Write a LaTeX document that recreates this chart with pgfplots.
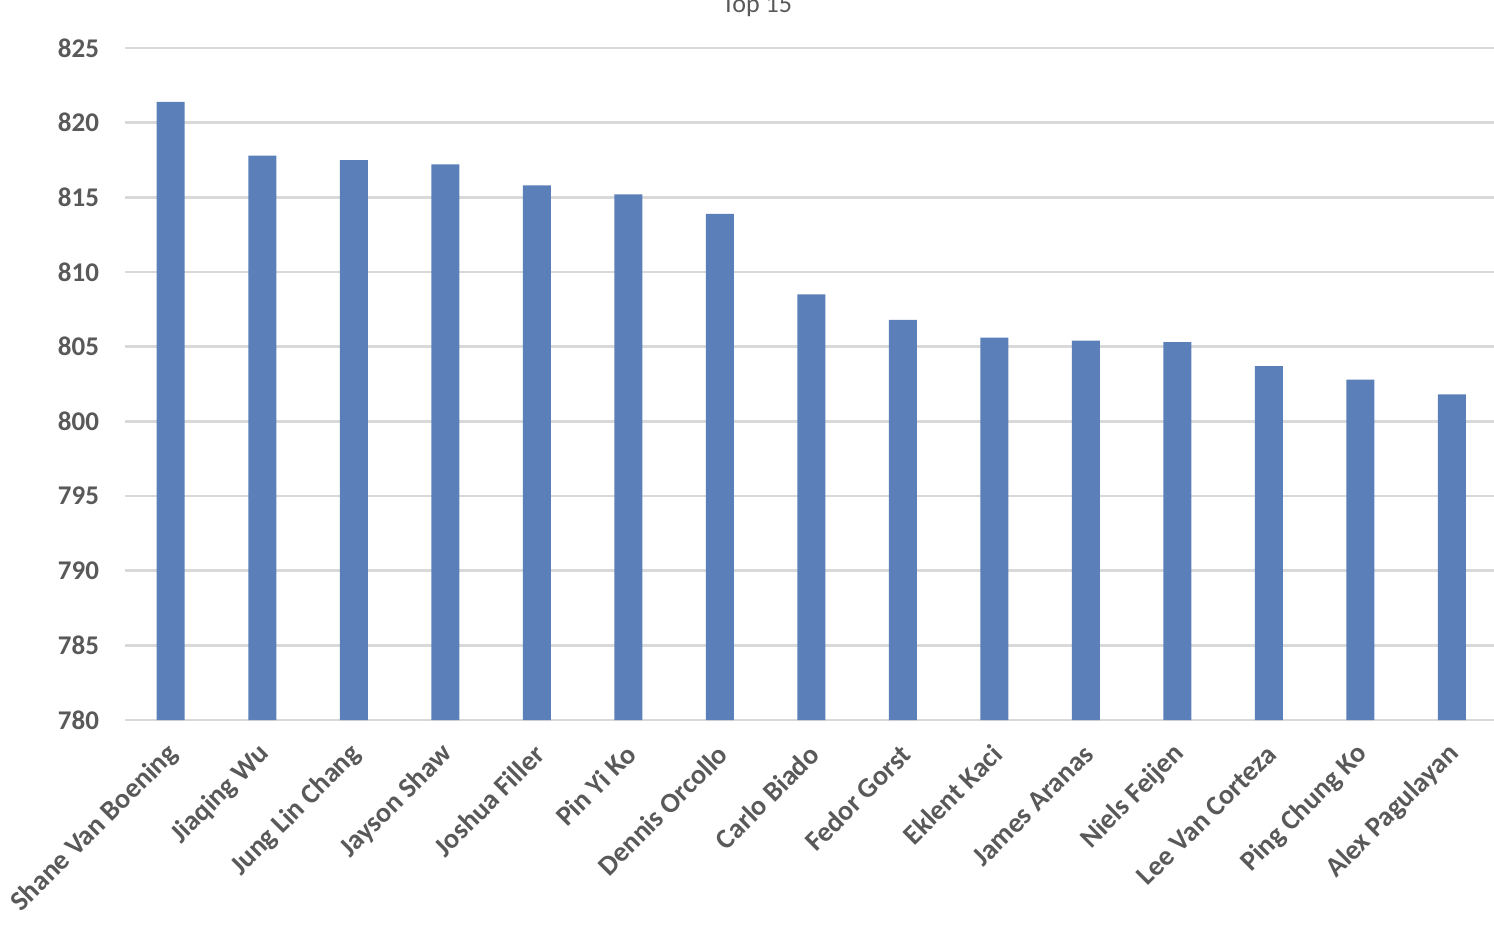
\documentclass[border=0pt]{standalone}
\usepackage{fontspec}
\setmainfont{Carlito}
\usepackage{pgfplots}
\pgfplotsset{compat=1.18}

\definecolor{barblue}{HTML}{5B7FB8}
\definecolor{gridgray}{HTML}{D9D9D9}
\definecolor{txtgray}{HTML}{595959}

\begin{document}
\begin{tikzpicture}
\begin{axis}[
    at={(0,0)}, anchor=south west,
    scale only axis,
    width=686.25pt, height=336pt,
    ymin=780, ymax=825,
    ytick={780,785,...,825},
    xmin=-0.5, xmax=14.5,
    xtick={0,...,14},
    xticklabels={Shane Van Boening, Jiaqing Wu, Jung Lin Chang, Jayson Shaw, Joshua Filler, Pin Yi Ko, Dennis Orcollo, Carlo Biado, Fedor Gorst, Eklent Kaci, James Aranas, Niels Feijen, Lee Van Corteza, Ping Chung Ko, Alex Pagulayan},
    axis y line*=left,
    axis x line*=bottom,
    y axis line style={draw=none},
    x axis line style={draw=gridgray, line width=1.2pt, -},
    ymajorgrids,
    grid style={draw=gridgray, line width=1.2pt},
    major tick length=0pt,
    ticklabel style={font=\fontsize{13.5}{15}\selectfont\bfseries, text=txtgray},
    /pgf/number format/assume math mode=true,
    yticklabel style={xshift=-9.5pt},
    xticklabel style={rotate=45, anchor=east, yshift=-11.6pt, xshift=-6pt, font=\fontsize{14}{16}\selectfont\bfseries},
    title={Top 15},
    title style={at={(0.4605,1)}, anchor=base, yshift=12pt, font=\fontsize{13}{15}\selectfont, text=txtgray},
    clip=false,
]
\addplot[ybar, bar width=14pt, fill=barblue, draw=none] coordinates {
    (0,821.4) (1,817.8) (2,817.5) (3,817.2) (4,815.8) (5,815.2) (6,813.9)
    (7,808.5) (8,806.8) (9,805.6) (10,805.4) (11,805.3) (12,803.7) (13,802.8) (14,801.8)
};
\end{axis}
\pgfresetboundingbox
\path[use as bounding box] (-62.5pt,-104pt) rectangle (684.5pt,360pt);
\end{tikzpicture}
\end{document}
